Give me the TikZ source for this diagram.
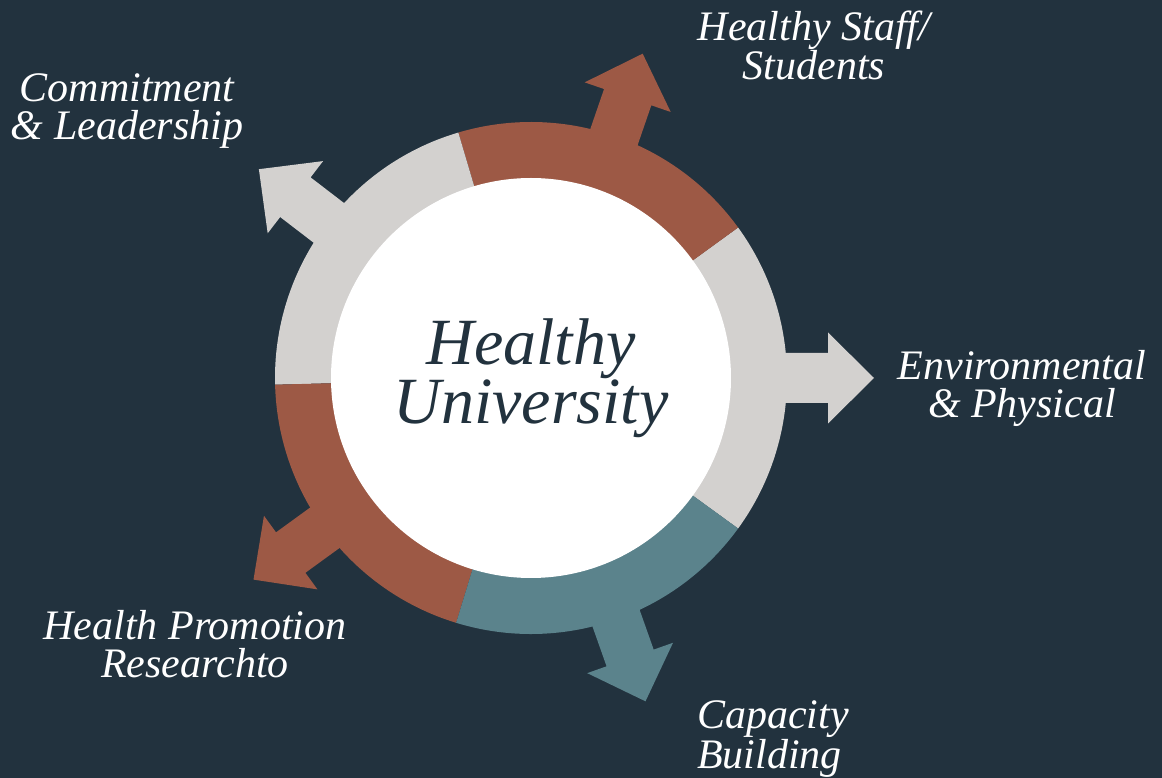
\documentclass[tikz,border=0pt]{standalone}
\usepackage{fontspec}
\setmainfont{Liberation Serif}
\definecolor{bg}{HTML}{22323E}
\definecolor{ringgrey}{HTML}{D3D1CF}
\definecolor{ringred}{HTML}{9D5945}
\definecolor{ringteal}{HTML}{5B838C}
\tikzset{
  lbl/.style={text=white, font=\fontsize{42}{38}\selectfont\itshape, anchor=base, inner sep=0pt, align=center},
  hubstyle/.style={circle, fill=white, minimum size=400pt, inner sep=0pt, text=bg,
    font=\fontsize{66}{50}\selectfont\itshape, align=center},
  arrowshape/.pic={
    \fill (215,-25) -- (297,-25) -- (297,-45.5) -- (343,0) -- (297,45.5) -- (297,25) -- (215,25) -- cycle;
  }
}
\newcommand{\ringsector}[3]{%
  \fill[#3] (0,0) -- (#1:256) arc[start angle=#1, end angle=#2, radius=256] -- cycle;}
\begin{document}
\begin{tikzpicture}[x=1pt,y=1pt]
\useasboundingbox (-531,-400) rectangle (631,378);
\fill[bg] (-531,-400) rectangle (631,378);
% arrows
\pic[ringgrey, rotate=0] at (0,0) {arrowshape};
\pic[ringred, rotate=71] at (0,0) {arrowshape};
\pic[ringgrey, rotate=142.5] at (0,0) {arrowshape};
\pic[ringred, rotate=216] at (0,0) {arrowshape};
\pic[ringteal, rotate=-70.5] at (0,0) {arrowshape};
% ring
\ringsector{-36}{36}{ringgrey}
\ringsector{36}{106.5}{ringred}
\ringsector{106.5}{181.5}{ringgrey}
\ringsector{181.5}{253}{ringred}
\ringsector{253}{324}{ringteal}
% hub
\node[hubstyle] (hub) at (0,0) {Healthy\\University};
% labels
\node[lbl] (cl) at (-404,238) {Commitment\\\& Leadership};
\node[lbl] (hs) at (283,298) {Healthy Staff/\\Students};
\node[lbl] (ep) at (491,-40) {Environmental\\\& Physical};
\node[lbl, anchor=base west, align=left] (cb) at (166,-390) {Capacity\\Building};
\node[lbl] (hp) at (-336,-299) {Health Promotion\\Researchto};
\end{tikzpicture}
\end{document}
